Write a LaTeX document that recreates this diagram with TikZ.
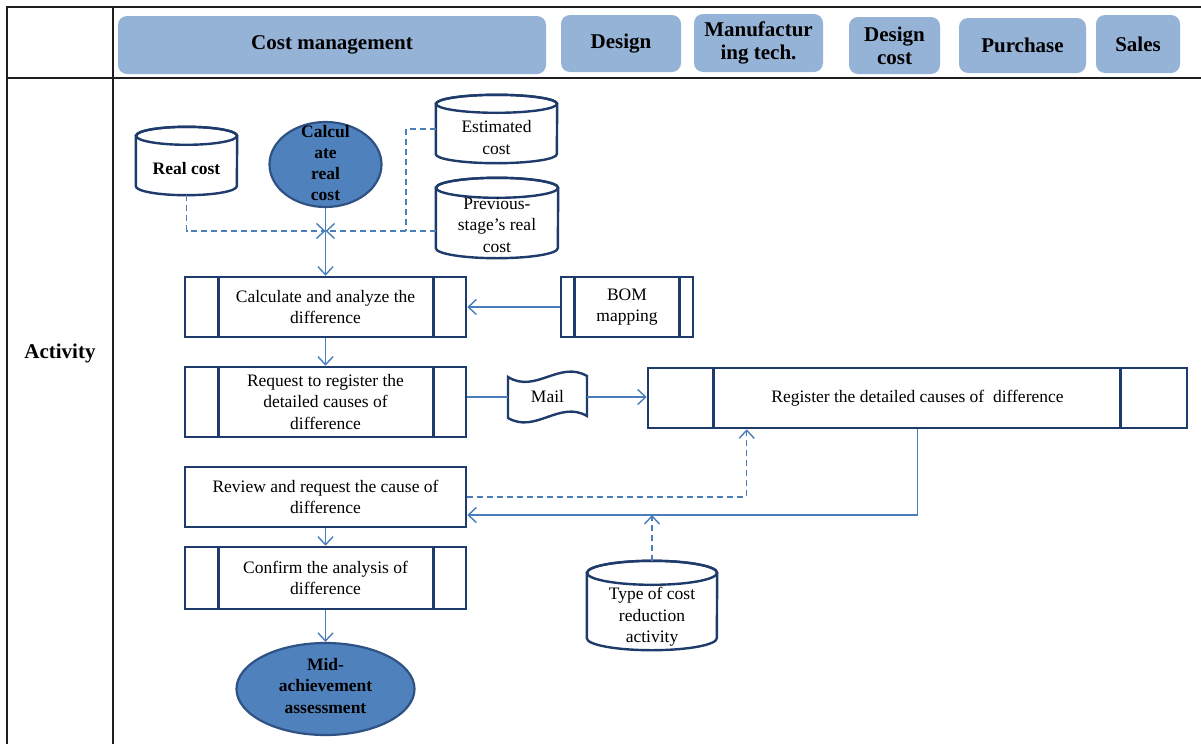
\documentclass[tikz,border=0pt]{standalone}
\usepackage{fontspec}
\setmainfont{Liberation Serif}
\usetikzlibrary{shapes.geometric,arrows.meta,calc}

\definecolor{pillfill}{HTML}{95B3D7}
\definecolor{navy}{HTML}{1F3B6B}
\definecolor{flowblue}{HTML}{4A7EBB}
\definecolor{ovalfill}{HTML}{4F81BD}
\definecolor{ovalrim}{HTML}{2E5283}
\definecolor{rulecol}{HTML}{1E1E1E}

\newcommand\headfont{\fontsize{21}{23}\selectfont\bfseries}
\newcommand\bodyfont{\fontsize{17.5}{21.5}\selectfont}
\newcommand\ovalfont{\fontsize{17.5}{21.3}\selectfont\bfseries}

% vertical side bars of a predefined-process box
\newcommand\sidebars[3]{%
  \draw[navy, line width=2.6pt] ([xshift=#2]#1.north west) -- ([xshift=#2]#1.south west);
  \draw[navy, line width=2.6pt] ([xshift=-#3]#1.north east) -- ([xshift=-#3]#1.south east);}

% database drum drawn round an empty node: node, x radius, y radius
\newcommand\drumoutline[3]{%
  \draw[navy, line width=2.4pt, fill=white]
    ([yshift=-#3]#1.north west) -- ([yshift=#3]#1.south west)
    arc[start angle=180, end angle=360, x radius=#2, y radius=#3]
    -- ([yshift=-#3]#1.north east)
    arc[start angle=0, end angle=180, x radius=#2, y radius=#3] -- cycle;
  \draw[navy, line width=2.4pt] ([yshift=-#3]#1.north) ellipse[x radius=#2, y radius=#3];}

\tikzset{
  tableline/.style={draw=rulecol, line width=2pt},
  lane/.style={fill=pillfill, rounded corners=9pt, inner sep=0pt, align=center, font=\headfont},
  procbox/.style={draw=navy, line width=2.6pt, fill=white, inner sep=0pt, align=center, font=\bodyfont},
  ovalnode/.style={ellipse, draw=ovalrim, line width=2.2pt, fill=ovalfill, inner sep=0pt},
  store/.style={inner sep=0pt},
  caption/.style={inner sep=0pt, align=center, font=\bodyfont},
  flow/.style={draw=flowblue, line width=1.4pt},
  dashflow/.style={flow, dash pattern=on 6pt off 4pt},
  arrowed/.style={-{Straight Barb[length=8pt,width=15pt]}},
}

\begin{document}
\begin{tikzpicture}[x=1pt,y=-1pt]
\useasboundingbox (0,0) rectangle (1201,744);

% table frame
\draw[tableline] (7,7) -- (1201,7);
\draw[tableline] (7,78) -- (1201,78);
\draw[tableline] (7,6) -- (7,744);
\draw[tableline] (113,6) -- (113,744);

% lane headers
\node[lane, minimum width=428pt, minimum height=58pt] (hcost) at (332,45) {Cost management};
\node[lane, minimum width=120pt, minimum height=57pt] (hdesign) at (621,43.5) {Design};
\node[lane, minimum width=129pt, minimum height=58pt] (hmanu) at (758.5,43) {Manufactur\\ing tech.};
\node[lane, minimum width=91pt, minimum height=57pt] (hdcost) at (894.5,45.5) {Design\\cost};
\node[lane, minimum width=127pt, minimum height=55pt] (hpurch) at (1022.5,45.5) {Purchase};
\node[lane, minimum width=84pt, minimum height=58pt] (hsales) at (1138,44) {Sales};

\node[font=\headfont, inner sep=0pt] (activity) at (60,353) {Activity};

% data stores
\node[store, minimum width=101pt, minimum height=68pt] (realcost) at (186.5,161) {};
\drumoutline{realcost}{50.5pt}{9pt}
\node[caption, font=\bodyfont\bfseries] (realcostlbl) at (186.5,169) {Real cost};

\node[store, minimum width=121pt, minimum height=68pt] (estcost) at (496.5,129) {};
\drumoutline{estcost}{60.5pt}{9pt}
\node[caption] (estcostlbl) at (496.5,137.5) {Estimated\\cost};

\node[store, minimum width=122pt, minimum height=80pt] (prevcost) at (497,218) {};
\drumoutline{prevcost}{61pt}{10pt}
\node[caption] (prevcostlbl) at (497,225) {Previous-\\stage’s real\\cost};

\node[store, minimum width=130pt, minimum height=89pt] (typecost) at (652,605.5) {};
\drumoutline{typecost}{65pt}{12pt}
\node[caption] (typecostlbl) at (652,617) {Type of cost\\reduction\\activity};

% start / end ovals
\node[ovalnode, minimum width=112pt, minimum height=85pt] (calcreal) at (325.5,164.5) {};
\node[caption, font=\ovalfont] (calcreallbl) at (325.5,163) {Calcul\\ate\\real\\cost};

\node[ovalnode, minimum width=178pt, minimum height=92pt] (mid) at (325.5,689) {};
\node[caption, font=\ovalfont] (midlbl) at (325.5,686) {Mid-\\achievement\\assessment};

% process boxes
\node[procbox, minimum width=281pt, minimum height=60pt] (calcdiff) at (325.5,307)
  {Calculate and analyze the\\difference};
\sidebars{calcdiff}{35pt}{34pt}

\node[procbox, minimum width=132pt, minimum height=60pt] (bom) at (627,307) {BOM\\mapping};
\sidebars{bom}{15pt}{15pt}

\node[procbox, minimum width=281pt, minimum height=70pt] (request) at (325.5,402)
  {Request to register the\\detailed causes of\\difference};
\sidebars{request}{35pt}{34pt}

\node[procbox, minimum width=539pt, minimum height=60pt] (register) at (917.5,398)
  {Register the detailed causes of\ \ difference};
\sidebars{register}{67pt}{68pt}

\node[procbox, minimum width=281pt, minimum height=60pt] (review) at (325.5,497)
  {Review and request the cause of\\difference};

\node[procbox, minimum width=281pt, minimum height=62pt] (confirm) at (325.5,578)
  {Confirm the analysis of\\difference};
\sidebars{confirm}{35pt}{34pt}

% mail (punched tape symbol)
\node[store, minimum width=79pt, minimum height=44pt] (mail) at (547.5,397) {};
\draw[navy, line width=2.4pt, fill=white, shift={(mail.center)}]
  (-39.5,-20) .. controls (-12,-3) and (12,-37) .. (39.5,-21)
  -- (39.5,19) .. controls (12,3) and (-12,37) .. (-39.5,21) -- cycle;
\node[caption] (maillbl) at (mail.center) {Mail};

% junction points
\coordinate (J) at (325.5,231);
\coordinate (K) at (406,231);
\coordinate (ret) at ([yshift=-18pt]review.east);

% connectors
\draw[dashflow, arrowed] (realcost.south) |- (J);
\draw[dashflow] (estcost.west) -| (K);
\draw[dashflow, arrowed] (prevcost.west |- J) -- (J);
\draw[flow, arrowed] (calcreal.south) -- (calcdiff.north);
\draw[flow, arrowed] (bom.west) -- (calcdiff.east);
\draw[flow, arrowed] (calcdiff.south) -- (request.north);
\draw[flow] (request.east |- mail.west) -- (mail.west);
\draw[flow, arrowed] (mail.east) -- (register.west |- mail.east);
\draw[flow, arrowed] (register.south) |- (ret);
\draw[dashflow, arrowed] (review.east) -| ([xshift=100pt]register.south west);
\draw[dashflow, arrowed] (typecost.north) -- (typecost.north |- ret);
\draw[flow, arrowed] (review.south) -- (confirm.north);
\draw[flow, arrowed] (confirm.south) -- (mid.north);
\end{tikzpicture}
\end{document}
